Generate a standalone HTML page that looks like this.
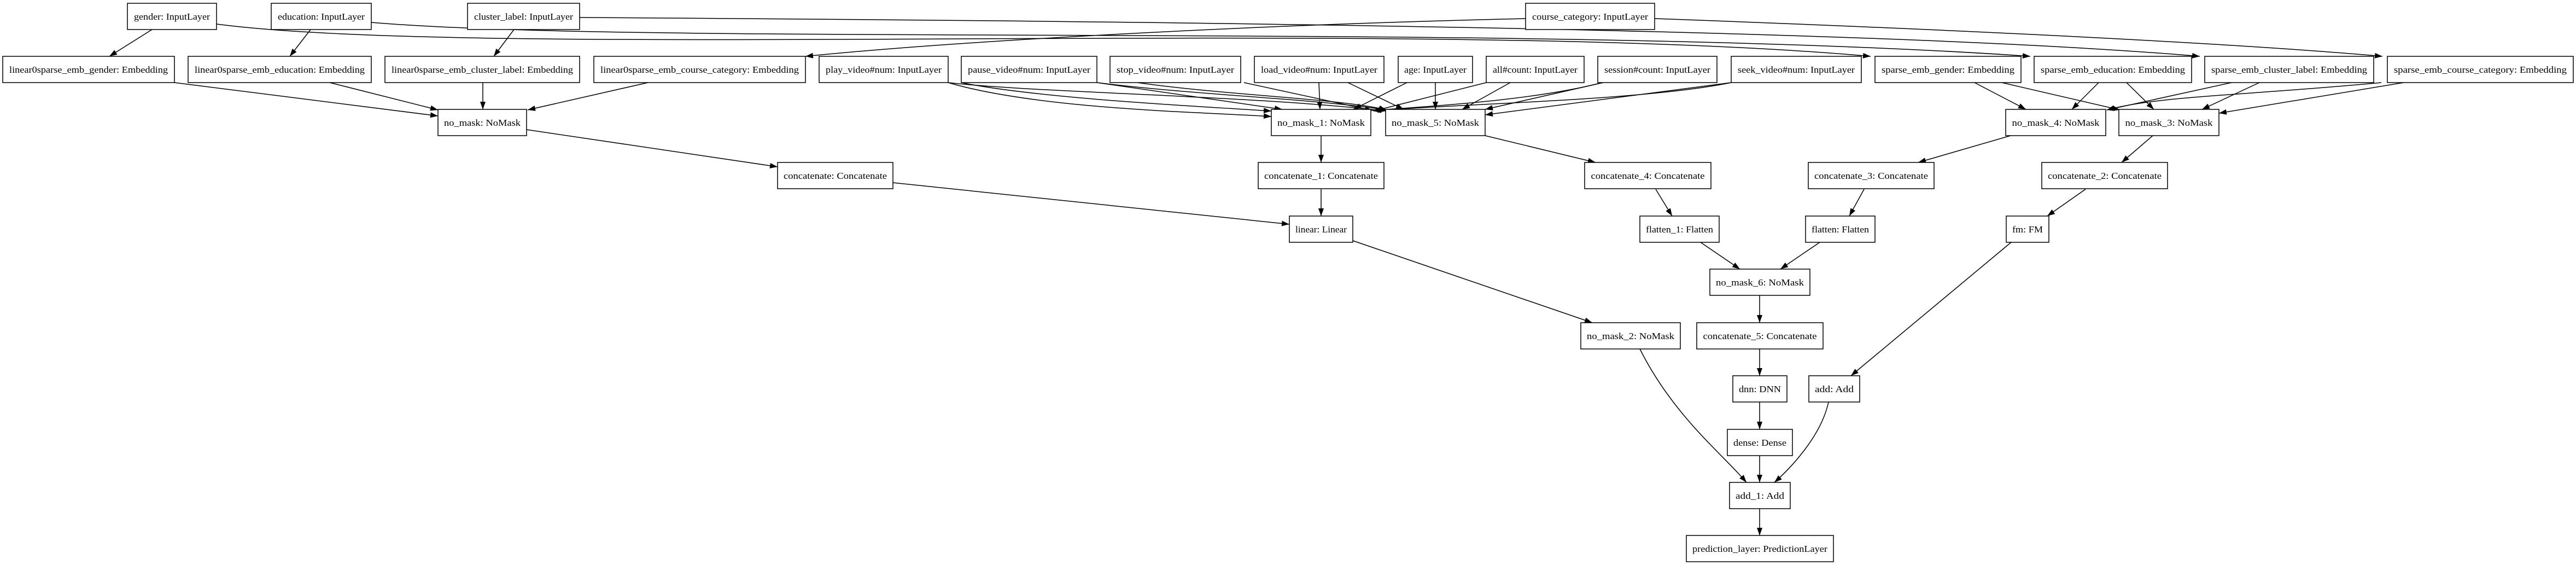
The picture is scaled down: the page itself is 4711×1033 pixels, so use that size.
<!DOCTYPE html>
<html><head><meta charset="utf-8"><style>
html,body{margin:0;padding:0;background:#fff;}
svg{display:block;}
text{font-family:"Liberation Serif",serif;font-size:17px;fill:#000;}
rect{fill:#fff;stroke:#000;stroke-width:1.5;}
.e{fill:none;stroke:#000;stroke-width:1.5;marker-end:url(#a);}
</style></head><body>
<svg width="4711" height="1033" viewBox="0 0 4711 1033" xmlns="http://www.w3.org/2000/svg">
<defs><marker id="a" markerUnits="userSpaceOnUse" markerWidth="14" markerHeight="10" refX="14" refY="5" orient="auto"><path d="M0,0 L14,5 L0,10 z" fill="#000"/></marker></defs>
<rect x="0" y="0" width="4711" height="1033" style="fill:#fff;stroke:none"/>
<!-- edges -->
<path class="e" d="M278,54 L200,103"/>
<path class="e" d="M568,54 L530,103"/>
<path class="e" d="M940,54 L903,103"/>
<path class="e" d="M319,151 L801,212"/>
<path class="e" d="M603,151 L801,201"/>
<path class="e" d="M883,151 L883,200"/>
<path class="e" d="M1185,151 L965,201"/>
<path class="e" d="M2790,34 C2300,45 1750,75 1473,103"/>
<path class="e" d="M396,44 C900,110 2600,30 3421,103"/>
<path class="e" d="M679,41 C1200,85 2800,40 3713,103"/>
<path class="e" d="M1060,32 C2000,38 3400,50 4023,103"/>
<path class="e" d="M3026,34 C3600,55 4100,80 4357,103"/>
<!-- numeric inputs -->
<path class="e" d="M1734,151 C1900,200 2200,205 2325,213"/>
<path class="e" d="M1734,151 C1900,170 2300,175 2534,203"/>
<path class="e" d="M1758,151 C1900,180 2200,195 2325,203"/>
<path class="e" d="M2006,151 C2200,175 2400,180 2536,201"/>
<path class="e" d="M2006,151 L2345,200"/>
<path class="e" d="M2080,151 C2250,175 2450,180 2536,201"/>
<path class="e" d="M2412,151 L2414,200"/>
<path class="e" d="M2465,151 L2567,200"/>
<path class="e" d="M2275,151 L2510,202"/>
<path class="e" d="M2573,151 L2475,200"/>
<path class="e" d="M2625,151 L2625,200"/>
<path class="e" d="M2718,151 L2512,203"/>
<path class="e" d="M2762,151 L2674,200"/>
<path class="e" d="M2930,151 C2800,185 2600,195 2510,202"/>
<path class="e" d="M2932,151 L2716,200"/>
<path class="e" d="M3166,151 C3000,185 2650,190 2512,203"/>
<path class="e" d="M3166,151 L2716,210"/>
<!-- sparse -->
<path class="e" d="M3611,151 L3705,200"/>
<path class="e" d="M3661,151 L3877,201"/>
<path class="e" d="M3838,151 L3789,200"/>
<path class="e" d="M3889,151 L3939,200"/>
<path class="e" d="M4081,151 L3853,201"/>
<path class="e" d="M4132,151 L4027,200"/>
<path class="e" d="M4355,151 C4100,175 3950,175 3853,201"/>
<path class="e" d="M4396,151 L4058,207"/>
<!-- middle -->
<path class="e" d="M2416,248 L2416,297"/>
<path class="e" d="M2716,248 L2918,297"/>
<path class="e" d="M3677,248 L3508,297"/>
<path class="e" d="M3937,248 L3880,297"/>
<path class="e" d="M963,237 L1422,305"/>
<path class="e" d="M1633,334 L2358,410"/>
<path class="e" d="M2416,346 L2416,395"/>
<path class="e" d="M3028,346 L3058,395"/>
<path class="e" d="M3409,346 L3382,395"/>
<path class="e" d="M3814,346 L3744,395"/>
<path class="e" d="M2474,440 L2912,590"/>
<path class="e" d="M3110,443 L3182,492"/>
<path class="e" d="M3328,443 L3256,492"/>
<path class="e" d="M3678,443 L3385,687"/>
<path class="e" d="M3218,540 L3218,590"/>
<path class="e" d="M2999,638 C3060,760 3150,830 3194,882"/>
<path class="e" d="M3218,638 L3218,687"/>
<path class="e" d="M3218,735 L3218,785"/>
<path class="e" d="M3218,833 L3218,882"/>
<path class="e" d="M3344,735 C3330,800 3270,860 3245,882"/>
<path class="e" d="M3218,930 L3218,979"/>
<!-- nodes -->
<g text-anchor="middle" lengthAdjust="spacingAndGlyphs">
<rect x="233" y="6" width="163" height="48"/><text x="314.5" y="36" textLength="139" lengthAdjust="spacingAndGlyphs">gender: InputLayer</text>
<rect x="496" y="6" width="183" height="48"/><text x="587.5" y="36" textLength="159" lengthAdjust="spacingAndGlyphs">education: InputLayer</text>
<rect x="855" y="6" width="205" height="48"/><text x="957.5" y="36" textLength="181" lengthAdjust="spacingAndGlyphs">cluster_label: InputLayer</text>
<rect x="2790" y="6" width="236" height="48"/><text x="2908" y="36" textLength="212" lengthAdjust="spacingAndGlyphs">course_category: InputLayer</text>

<rect x="5" y="103" width="314" height="48"/><text x="162" y="133" textLength="290" lengthAdjust="spacingAndGlyphs">linear0sparse_emb_gender: Embedding</text>
<rect x="344" y="103" width="335" height="48"/><text x="511.5" y="133" textLength="311" lengthAdjust="spacingAndGlyphs">linear0sparse_emb_education: Embedding</text>
<rect x="704" y="103" width="356" height="48"/><text x="882" y="133" textLength="332" lengthAdjust="spacingAndGlyphs">linear0sparse_emb_cluster_label: Embedding</text>
<rect x="1086" y="103" width="387" height="48"/><text x="1279.5" y="133" textLength="363" lengthAdjust="spacingAndGlyphs">linear0sparse_emb_course_category: Embedding</text>
<rect x="1498" y="103" width="236" height="48"/><text x="1616" y="133" textLength="212" lengthAdjust="spacingAndGlyphs">play_video#num: InputLayer</text>
<rect x="1758" y="103" width="248" height="48"/><text x="1882" y="133" textLength="224" lengthAdjust="spacingAndGlyphs">pause_video#num: InputLayer</text>
<rect x="2030" y="103" width="239" height="48"/><text x="2149.5" y="133" textLength="215" lengthAdjust="spacingAndGlyphs">stop_video#num: InputLayer</text>
<rect x="2294" y="103" width="237" height="48"/><text x="2412.5" y="133" textLength="213" lengthAdjust="spacingAndGlyphs">load_video#num: InputLayer</text>
<rect x="2557" y="103" width="136" height="48"/><text x="2625" y="133" textLength="114" lengthAdjust="spacingAndGlyphs">age: InputLayer</text>
<rect x="2718" y="103" width="179" height="48"/><text x="2807.5" y="133" textLength="155" lengthAdjust="spacingAndGlyphs">all#count: InputLayer</text>
<rect x="2922" y="103" width="218" height="48"/><text x="3031" y="133" textLength="194" lengthAdjust="spacingAndGlyphs">session#count: InputLayer</text>
<rect x="3166" y="103" width="238" height="48"/><text x="3285" y="133" textLength="214" lengthAdjust="spacingAndGlyphs">seek_video#num: InputLayer</text>
<rect x="3429" y="103" width="267" height="48"/><text x="3562.5" y="133" textLength="243" lengthAdjust="spacingAndGlyphs">sparse_emb_gender: Embedding</text>
<rect x="3720" y="103" width="288" height="48"/><text x="3864" y="133" textLength="264" lengthAdjust="spacingAndGlyphs">sparse_emb_education: Embedding</text>
<rect x="4032" y="103" width="309" height="48"/><text x="4186.5" y="133" textLength="285" lengthAdjust="spacingAndGlyphs">sparse_emb_cluster_label: Embedding</text>
<rect x="4366" y="103" width="340" height="48"/><text x="4536" y="133" textLength="316" lengthAdjust="spacingAndGlyphs">sparse_emb_course_category: Embedding</text>

<rect x="801" y="200" width="162" height="48"/><text x="882" y="230" textLength="140" lengthAdjust="spacingAndGlyphs">no_mask: NoMask</text>
<rect x="2325" y="200" width="182" height="48"/><text x="2416" y="230" textLength="160" lengthAdjust="spacingAndGlyphs">no_mask_1: NoMask</text>
<rect x="2534" y="200" width="182" height="48"/><text x="2625" y="230" textLength="160" lengthAdjust="spacingAndGlyphs">no_mask_5: NoMask</text>
<rect x="3668" y="200" width="183" height="48"/><text x="3759.5" y="230" textLength="160" lengthAdjust="spacingAndGlyphs">no_mask_4: NoMask</text>
<rect x="3875" y="200" width="183" height="48"/><text x="3966.5" y="230" textLength="160" lengthAdjust="spacingAndGlyphs">no_mask_3: NoMask</text>

<rect x="1422" y="297" width="211" height="48"/><text x="1527.5" y="327" textLength="189" lengthAdjust="spacingAndGlyphs">concatenate: Concatenate</text>
<rect x="2301" y="297" width="230" height="48"/><text x="2416" y="327" textLength="208" lengthAdjust="spacingAndGlyphs">concatenate_1: Concatenate</text>
<rect x="2898" y="297" width="231" height="48"/><text x="3013.5" y="327" textLength="208" lengthAdjust="spacingAndGlyphs">concatenate_4: Concatenate</text>
<rect x="3307" y="297" width="230" height="48"/><text x="3422" y="327" textLength="208" lengthAdjust="spacingAndGlyphs">concatenate_3: Concatenate</text>
<rect x="3734" y="297" width="230" height="48"/><text x="3849" y="327" textLength="208" lengthAdjust="spacingAndGlyphs">concatenate_2: Concatenate</text>

<rect x="2358" y="395" width="116" height="48"/><text x="2416" y="425" textLength="94" lengthAdjust="spacingAndGlyphs">linear: Linear</text>
<rect x="2999" y="395" width="145" height="48"/><text x="3071.5" y="425" textLength="123" lengthAdjust="spacingAndGlyphs">flatten_1: Flatten</text>
<rect x="3302" y="395" width="127" height="48"/><text x="3365.5" y="425" textLength="105" lengthAdjust="spacingAndGlyphs">flatten: Flatten</text>
<rect x="3669" y="395" width="78" height="48"/><text x="3708" y="425" textLength="56" lengthAdjust="spacingAndGlyphs">fm: FM</text>

<rect x="3127" y="492" width="183" height="48"/><text x="3218.5" y="522" textLength="161" lengthAdjust="spacingAndGlyphs">no_mask_6: NoMask</text>
<rect x="2891" y="590" width="182" height="48"/><text x="2982" y="620" textLength="160" lengthAdjust="spacingAndGlyphs">no_mask_2: NoMask</text>
<rect x="3103" y="590" width="231" height="48"/><text x="3218.5" y="620" textLength="208" lengthAdjust="spacingAndGlyphs">concatenate_5: Concatenate</text>
<rect x="3169" y="687" width="99" height="48"/><text x="3218.5" y="717" textLength="77" lengthAdjust="spacingAndGlyphs">dnn: DNN</text>
<rect x="3308" y="687" width="93" height="48"/><text x="3354.5" y="717" textLength="71" lengthAdjust="spacingAndGlyphs">add: Add</text>
<rect x="3159" y="785" width="119" height="48"/><text x="3218.5" y="815" textLength="97" lengthAdjust="spacingAndGlyphs">dense: Dense</text>
<rect x="3163" y="882" width="111" height="48"/><text x="3218.5" y="912" textLength="89" lengthAdjust="spacingAndGlyphs">add_1: Add</text>
<rect x="3084" y="979" width="269" height="48"/><text x="3218.5" y="1009" textLength="247" lengthAdjust="spacingAndGlyphs">prediction_layer: PredictionLayer</text>
</g>
</svg>
</body></html>
